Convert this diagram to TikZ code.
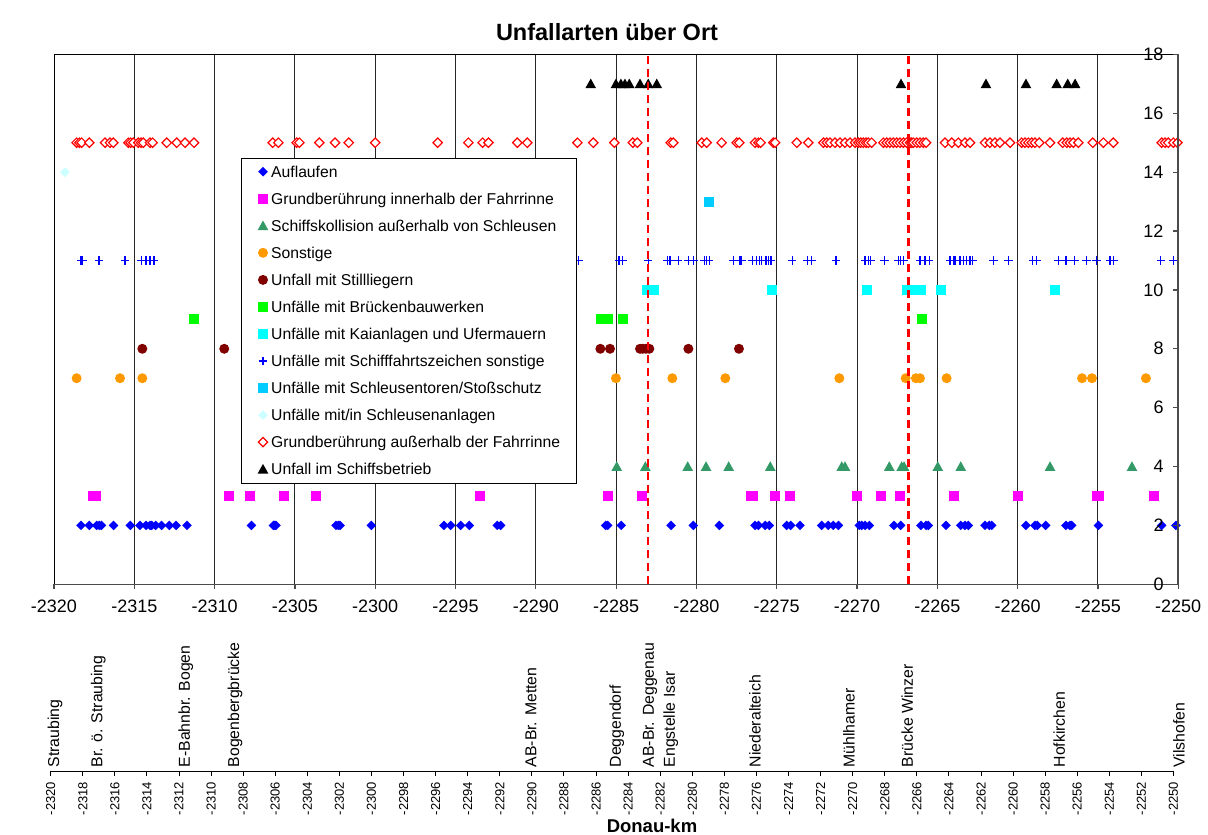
\documentclass[tikz,border=0pt]{standalone}
\usepackage{fontspec}
\setmainfont{Liberation Sans}
\definecolor{cAuf}{RGB}{0,0,255}
\definecolor{cMag}{RGB}{255,0,255}
\definecolor{cSea}{RGB}{51,153,102}
\definecolor{cOra}{RGB}{255,153,0}
\definecolor{cDred}{RGB}{128,0,0}
\definecolor{cGrn}{RGB}{0,255,0}
\definecolor{cCya}{RGB}{0,255,255}
\definecolor{cSky}{RGB}{0,204,255}
\definecolor{cLcy}{RGB}{204,255,255}
\definecolor{cRed}{RGB}{255,0,0}
\begin{document}
\begin{tikzpicture}[x=1pt,y=-1pt,
  gridl/.style={black!85, line width=0.9pt},
  axisl/.style={black!70, line width=1.6pt},
  ticklab/.style={inner sep=0pt, font=\fontsize{18}{20}\selectfont},
  leglab/.style={inner sep=0pt, anchor=base west, font=\fontsize{15.7}{18}\selectfont},
  loclab/.style={inner sep=0pt, anchor=west, rotate=90, font=\fontsize{15.8}{18}\selectfont},
  kmlab/.style={inner sep=0pt, anchor=east, rotate=90, font=\fontsize{13}{15}\selectfont},
  guide/.style={cRed, line width=2.2pt, dash pattern=on 8pt off 5pt},
  mdiam/.pic={\fill (-4.8pt,0pt) -- (0pt,4.8pt) -- (4.8pt,0pt) -- (0pt,-4.8pt) -- cycle;},
  msq/.pic={\fill (-5pt,-5pt) rectangle (5pt,5pt);},
  mtri/.pic={\fill (-5.3pt,-4.3pt) -- (5.3pt,-4.3pt) -- (0pt,5.3pt) -- cycle;},
  mcirc/.pic={\fill (0pt,0pt) circle (5pt);},
  mplus/.pic={\draw[line width=1.3pt] (-4.2pt,0pt) -- (4.2pt,0pt) (0pt,-4.2pt) -- (0pt,4.2pt);},
  mopen/.pic={\filldraw[fill=white, line width=1.2pt] (-4.7pt,0pt) -- (0pt,4.7pt) -- (4.7pt,0pt) -- (0pt,-4.7pt) -- cycle;}
]
\useasboundingbox (0,0) rectangle (1208,835);
\fill[white] (0,0) rectangle (1208,835);

\node[font=\bfseries\fontsize{23.5}{26}\selectfont, inner sep=0pt] (title) at (607,32) {Unfallarten über Ort};

% ---------------- upper chart ----------------
\begin{scope}[shift={(54pt,-584.3pt)}, x=16.06pt, y=29.44pt]
  \foreach \i in {1,...,13} \draw[gridl] (5*\i,0) -- (5*\i,18);
  \draw[black, line width=0.9pt] (0,0) -- (0,18) -- (70,18);

  % Auflaufen
  \foreach \d in {1.68,2.2,2.66,2.82,2.95,3.71,4.75,5.35,5.73,5.98,6.08,6.33,6.7,7.18,7.6,8.28,12.29,13.66,13.75,13.82,17.56,17.7,17.81,19.76,24.28,24.7,25.32,25.86,27.6,27.81,34.35,34.48,35.32,38.42,39.81,41.43,43.65,43.86,44.28,44.54,45.62,45.87,46.45,47.8,48.21,48.52,48.84,50.14,50.29,50.5,50.77,52.3,52.72,53.98,54.3,54.44,55.54,56.46,56.72,56.93,57.97,58.24,58.39,60.52,61.08,61.23,61.75,63.01,63.26,63.37,65.03,68.97,69.86}
    \pic[cAuf] at (\d,2) {mdiam};
  % Grundberuehrung innerhalb
  \foreach \d in {2.45,2.6,10.9,12.18,14.32,16.31,26.52,34.48,36.61,43.4,43.55,44.92,45.8,49.98,51.5,52.68,56.02,60.02,64.95,65.05,68.5}
    \pic[cMag] at (\d,3) {msq};
  % Schiffskollision
  \foreach \d in {35.04,36.82,39.46,40.6,42.01,44.6,49.05,49.25,52.01,52.78,52.93,55.03,56.46,62.02,67.12}
    \pic[cSea] at (\d,4) {mtri};
  % Sonstige
  \foreach \d in {1.41,4.11,5.5,34.99,38.5,41.8,48.9,53.03,53.67,53.92,55.58,64.01,64.63,67.99}
    \pic[cOra] at (\d,7) {mcirc};
  % Stillliegern
  \foreach \d in {5.5,10.6,34.02,34.62,36.49,36.66,36.86,37.07,39.5,42.65}
    \pic[cDred] at (\d,8) {mcirc};
  % Brueckenbauwerke
  \foreach \d in {8.74,34.06,34.27,34.52,35.41,54.03}
    \pic[cGrn] at (\d,9) {msq};
  % Kaianlagen
  \foreach \d in {36.9,37.1,37.35,44.71,50.6,53.09,53.4,53.7,53.98,55.23,62.33}
    \pic[cCya] at (\d,10) {msq};
  % Schifffahrtszeichen
  \foreach \d in {1.68,1.77,2.8,4.42,5.46,5.73,5.98,6.23,32.65,35.18,35.39,37.0,38.21,38.36,38.87,39.5,39.81,40.49,40.64,40.8,42.3,42.71,42.82,43.5,43.75,43.91,44.06,44.33,44.48,44.64,45.97,46.9,47.18,48.69,50.5,50.7,50.85,51.7,52.57,52.72,52.89,53.92,54.23,54.5,55.79,56.0,56.1,56.41,56.62,56.83,57.04,57.2,58.49,59.43,60.94,61.19,62.54,63.01,63.53,64.3,64.92,65.75,65.96,68.91,69.7}
    \pic[cAuf] at (\d,11) {mplus};
  % Schleusentoren
  \pic[cSky] at (40.77,13) {msq};
  % Schleusenanlagen
  \pic[cLcy] at (0.68,14) {mdiam};
  % Grundberuehrung ausserhalb
  \foreach \d in {1.41,1.58,1.72,2.2,3.18,3.49,3.69,4.63,4.77,4.94,5.25,5.42,5.56,5.98,6.14,7.02,7.64,8.16,8.72,13.62,13.97,15.11,15.28,16.52,17.5,18.35,20.0,23.89,25.8,26.69,27.05,28.85,29.47,32.59,33.58,34.89,36.04,36.32,38.4,38.56,40.33,40.64,41.57,42.51,42.67,43.65,43.86,44.0,44.79,44.9,46.25,46.97,47.91,48.12,48.32,48.63,48.94,49.25,49.56,49.88,50.08,50.23,50.39,50.56,50.7,50.91,51.64,51.85,52.05,52.26,52.47,52.68,52.89,53.09,53.3,53.41,53.51,53.72,53.92,54.13,54.3,55.48,55.9,56.31,56.73,57.04,57.97,58.28,58.59,58.9,59.53,60.25,60.46,60.67,60.88,61.08,61.35,62.02,62.81,63.06,63.26,63.47,63.78,64.68,65.34,65.96,68.97,69.18,69.38,69.7,69.95}
    \pic[cRed] at (\d,15) {mopen};
  % Schiffsbetrieb
  \foreach \d in {33.42,34.99,35.3,35.55,35.82,36.49,37.0,37.53,52.74,58.03,60.52,62.43,63.12,63.58}
    \pic[black] at (\d,17) {mtri};

  % guide lines
  \coordinate (g1a) at (37.0,0); \coordinate (g1b) at (37.0,18);
  \coordinate (g2a) at (53.2,0); \coordinate (g2b) at (53.2,18);
  \draw[guide] (g1a) -- (g1b);
  \draw[guide] (g2a) -- (g2b);

  % axes
  \draw[axisl] (0,0) -- (70,0);
  \draw[axisl] (70,0) -- (70,18);
  \foreach \i in {0,...,14} {
    \draw[black!70, line width=1.2pt] (5*\i,0) -- ++(0pt,-5pt);
    \pgfmathtruncatemacro\km{-2320+5*\i}
    \node[ticklab, yshift=-22.4pt] (xl\i) at (5*\i,0) {\km};
  }
  \foreach \v in {0,2,...,18} {
    \draw[black!70, line width=1.2pt] (70,\v) -- ++(-5pt,0pt);
    \node[ticklab, anchor=east, xshift=-14.5pt] (yl\v) at (70,\v) {\v};
  }
\end{scope}

% ---------------- legend ----------------
\draw[black, fill=white, line width=0.9pt] (241.3,158) rectangle (576.7,483.3);
\pic[cAuf]  at (263,171.7) {mdiam};
\node[leglab] (l1)  at (271,177.3) {Auflaufen};
\pic[cMag]  at (263,198.7) {msq};
\node[leglab] (l2)  at (271,204.3) {Grundberührung innerhalb der Fahrrinne};
\pic[cSea]  at (263,225.8) {mtri};
\node[leglab] (l3)  at (271,231.4) {Schiffskollision außerhalb von Schleusen};
\pic[cOra]  at (263,252.8) {mcirc};
\node[leglab] (l4)  at (271,258.4) {Sonstige};
\pic[cDred] at (263,279.9) {mcirc};
\node[leglab] (l5)  at (271,285.5) {Unfall mit Stillliegern};
\pic[cGrn]  at (263,306.9) {msq};
\node[leglab] (l6)  at (271,312.5) {Unfälle mit Brückenbauwerken};
\pic[cCya]  at (263,333.9) {msq};
\node[leglab] (l7)  at (271,339.5) {Unfälle mit Kaianlagen und Ufermauern};
\pic[cAuf]  at (263,361.0) {mplus};
\node[leglab] (l8)  at (271,366.6) {Unfälle mit Schifffahrtszeichen sonstige};
\pic[cSky]  at (263,388.0) {msq};
\node[leglab] (l9)  at (271,393.6) {Unfälle mit Schleusentoren/Stoßschutz};
\pic[cLcy]  at (263,415.1) {mdiam};
\node[leglab] (l10) at (271,420.7) {Unfälle mit/in Schleusenanlagen};
\pic[cRed]  at (263,442.1) {mopen};
\node[leglab] (l11) at (271,447.7) {Grundberührung außerhalb der Fahrrinne};
\pic[black] at (263,469.2) {mtri};
\node[leglab] (l12) at (271,474.8) {Unfall im Schiffsbetrieb};

% ---------------- lower location axis ----------------
\begin{scope}[shift={(50.7pt,-771.3pt)}, x=16.04pt, y=1pt]
  \draw[black, line width=1.3pt] (0,0) -- (70,0);
  \foreach \i in {0,...,35} {
    \draw[black, line width=1pt] (2*\i,0) -- (2*\i,-5);
    \pgfmathtruncatemacro\km{-2320+2*\i}
    \node[kmlab] (kl\i) at (2*\i,-10.4) {\km};
  }
\end{scope}

\node[loclab] (s1)  at (55,767.5)   {Straubing};
\node[loclab] (s2)  at (98.3,767.5) {Br. ö. Straubing};
\node[loclab] (s3)  at (185.7,767.5) {E-Bahnbr. Bogen};
\node[loclab] (s4)  at (235,767.5)  {Bogenbergbrücke};
\node[loclab] (s5)  at (531,767.5)  {AB-Br. Metten};
\node[loclab] (s6)  at (616.7,767.5) {Deggendorf};
\node[loclab] (s7)  at (650,767.5)  {AB-Br. Deggenau};
\node[loclab] (s8)  at (670.7,767.5) {Engstelle Isar};
\node[loclab] (s9)  at (755,767.5)  {Niederalteich};
\node[loclab] (s10) at (849,767.5)  {Mühlhamer};
\node[loclab] (s11) at (907.3,767.5) {Brücke Winzer};
\node[loclab] (s12) at (1059.3,767.5) {Hofkirchen};
\node[loclab] (s13) at (1179,767.5) {Vilshofen};

\node[font=\bfseries\fontsize{18.5}{20}\selectfont, inner sep=0pt] (xtitle) at (652,825.5) {Donau-km};
\end{tikzpicture}
\end{document}
